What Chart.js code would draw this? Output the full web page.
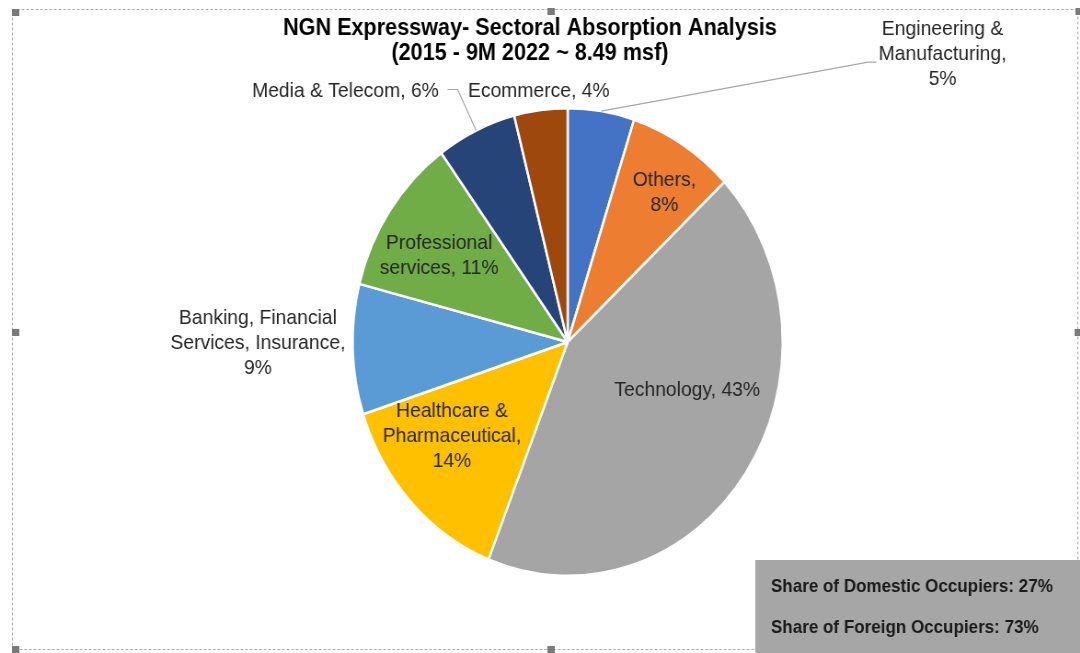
<!DOCTYPE html>
<html>
<head>
<meta charset="utf-8">
<script src="https://cdn.jsdelivr.net/npm/chart.js@4.4.0/dist/chart.umd.min.js"></script>
<style>
  html, body { margin: 0; padding: 0; background: #fff; overflow: hidden; }
  #wrap { width: 1080px; height: 653px; overflow: hidden; }
  /* the reference is squeezed horizontally, so draw wider and squeeze */
  canvas { display: block; transform: scaleX(0.92); transform-origin: 0 0; }
</style>
</head>
<body>
<div id="wrap"><canvas id="myChart" width="1174" height="653"></canvas></div>
<script>
const sectors = ['Engineering & Manufacturing', 'Others', 'Technology', 'Healthcare & Pharmaceutical',
  'Banking, Financial Services, Insurance', 'Professional services', 'Media & Telecom', 'Ecommerce'];
const shares = [5, 8, 43, 14, 9, 11, 6, 4];
const colors = ['#4472C4', '#ED7D31', '#A5A5A5', '#FFC000', '#5B9BD5', '#70AD47', '#264478', '#9E480E'];
// label text, {v} is replaced by the share
const labelLines = [
  ['Engineering &', 'Manufacturing,', '{v}%'],
  ['Others,', '{v}%'],
  ['Technology, {v}%'],
  ['Healthcare &', 'Pharmaceutical,', '{v}%'],
  ['Banking, Financial', 'Services, Insurance,', '{v}%'],
  ['Professional', 'services, {v}%'],
  ['Media & Telecom, {v}%'],
  ['Ecommerce, {v}%']
];
const titleLines = ['NGN Expressway- Sectoral Absorption Analysis', '(2015 - 9M 2022 ~ 8.49 msf)'];
const boxLines = ['Share of Domestic Occupiers: 27%', 'Share of Foreign Occupiers: 73%'];

// label placement: radial factor, dx, dy ; leader: [elbow dx, dy, end dx, dy] from label centre
const labelPos = [
  [1.0, 371, -57], [0.8, 5, 9], [0.6, 14, -31], [0.65, -15, -10],
  [1.0, -103, -6], [0.65, -14, -1], [1.0, -142, -39], [1.0, -2, -19]
];
const leaders = [[-81, 8, -72, 8], null, null, null, null, null, [122, -2, 111, -2], null];

const FONT = '"Liberation Sans", Arial, sans-serif';

const decor = {
  id: 'decor',
  beforeDraw(chart) {
    const ctx = chart.ctx;
    ctx.save();
    ctx.strokeStyle = '#a8a8a8';
    ctx.lineWidth = 1;
    ctx.setLineDash([3, 2]);
    ctx.strokeRect(13.5, 9.5, 1158, 640);
    ctx.setLineDash([]);
    ctx.fillStyle = '#7a7a7a';
    [[13, 9], [595, 8], [13, 329], [1168, 329], [1169, 8], [13, 646], [595, 646]].forEach(p => {
      ctx.fillRect(p[0], p[1], 8, 7);
    });
    ctx.restore();
  },
  afterDraw(chart) {
    const ctx = chart.ctx;
    const meta = chart.getDatasetMeta(0);
    ctx.save();
    ctx.textAlign = 'center';
    ctx.textBaseline = 'middle';

    // title
    ctx.fillStyle = '#000';
    ctx.font = 'bold 23.5px ' + FONT;
    ctx.fillText(titleLines[0], 576, 29);
    ctx.fillText(titleLines[1], 576, 54);

    // data labels
    ctx.font = '21px ' + FONT;
    meta.data.forEach((arc, i) => {
      const mid = (arc.startAngle + arc.endAngle) / 2;
      const p = labelPos[i];
      const r = arc.outerRadius * p[0];
      const cx = arc.x + Math.cos(mid) * r + p[1];
      const cy = arc.y + Math.sin(mid) * r + p[2];
      const lines = labelLines[i].map(s => s.replace('{v}', shares[i]));
      const lh = 25;
      const top = cy - (lines.length - 1) * lh / 2;
      const ld = leaders[i];
      if (ld) {
        ctx.strokeStyle = '#a6a6a6';
        ctx.lineWidth = 1.2;
        ctx.beginPath();
        ctx.moveTo(arc.x + Math.cos(mid) * arc.outerRadius, arc.y + Math.sin(mid) * arc.outerRadius);
        ctx.lineTo(cx + ld[0], cy + ld[1]);
        ctx.lineTo(cx + ld[2], cy + ld[3]);
        ctx.stroke();
      }
      ctx.fillStyle = '#262626';
      lines.forEach((t, k) => ctx.fillText(t, cx, top + k * lh));
    });

    // occupier share box
    ctx.fillStyle = '#a6a6a6';
    ctx.fillRect(821, 560, 353, 93);
    ctx.fillStyle = '#1a1a1a';
    ctx.textAlign = 'left';
    ctx.font = 'bold 18.5px ' + FONT;
    ctx.fillText(boxLines[0], 838, 587);
    ctx.fillText(boxLines[1], 838, 628);
    ctx.restore();
  }
};

const ctx = document.getElementById('myChart').getContext('2d');
const myChart = new Chart(ctx, {
  type: 'pie',
  data: {
    labels: sectors,
    datasets: [{
      data: shares,
      backgroundColor: colors,
      borderColor: '#ffffff',
      borderWidth: 2.5
    }]
  },
  options: {
    responsive: false,
    animation: false,
    layout: { padding: { left: 382, right: 322, top: 107, bottom: 76 } },
    plugins: {
      legend: { display: false },
      tooltip: { enabled: false }
    }
  },
  plugins: [decor]
});
</script>
</body>
</html>
